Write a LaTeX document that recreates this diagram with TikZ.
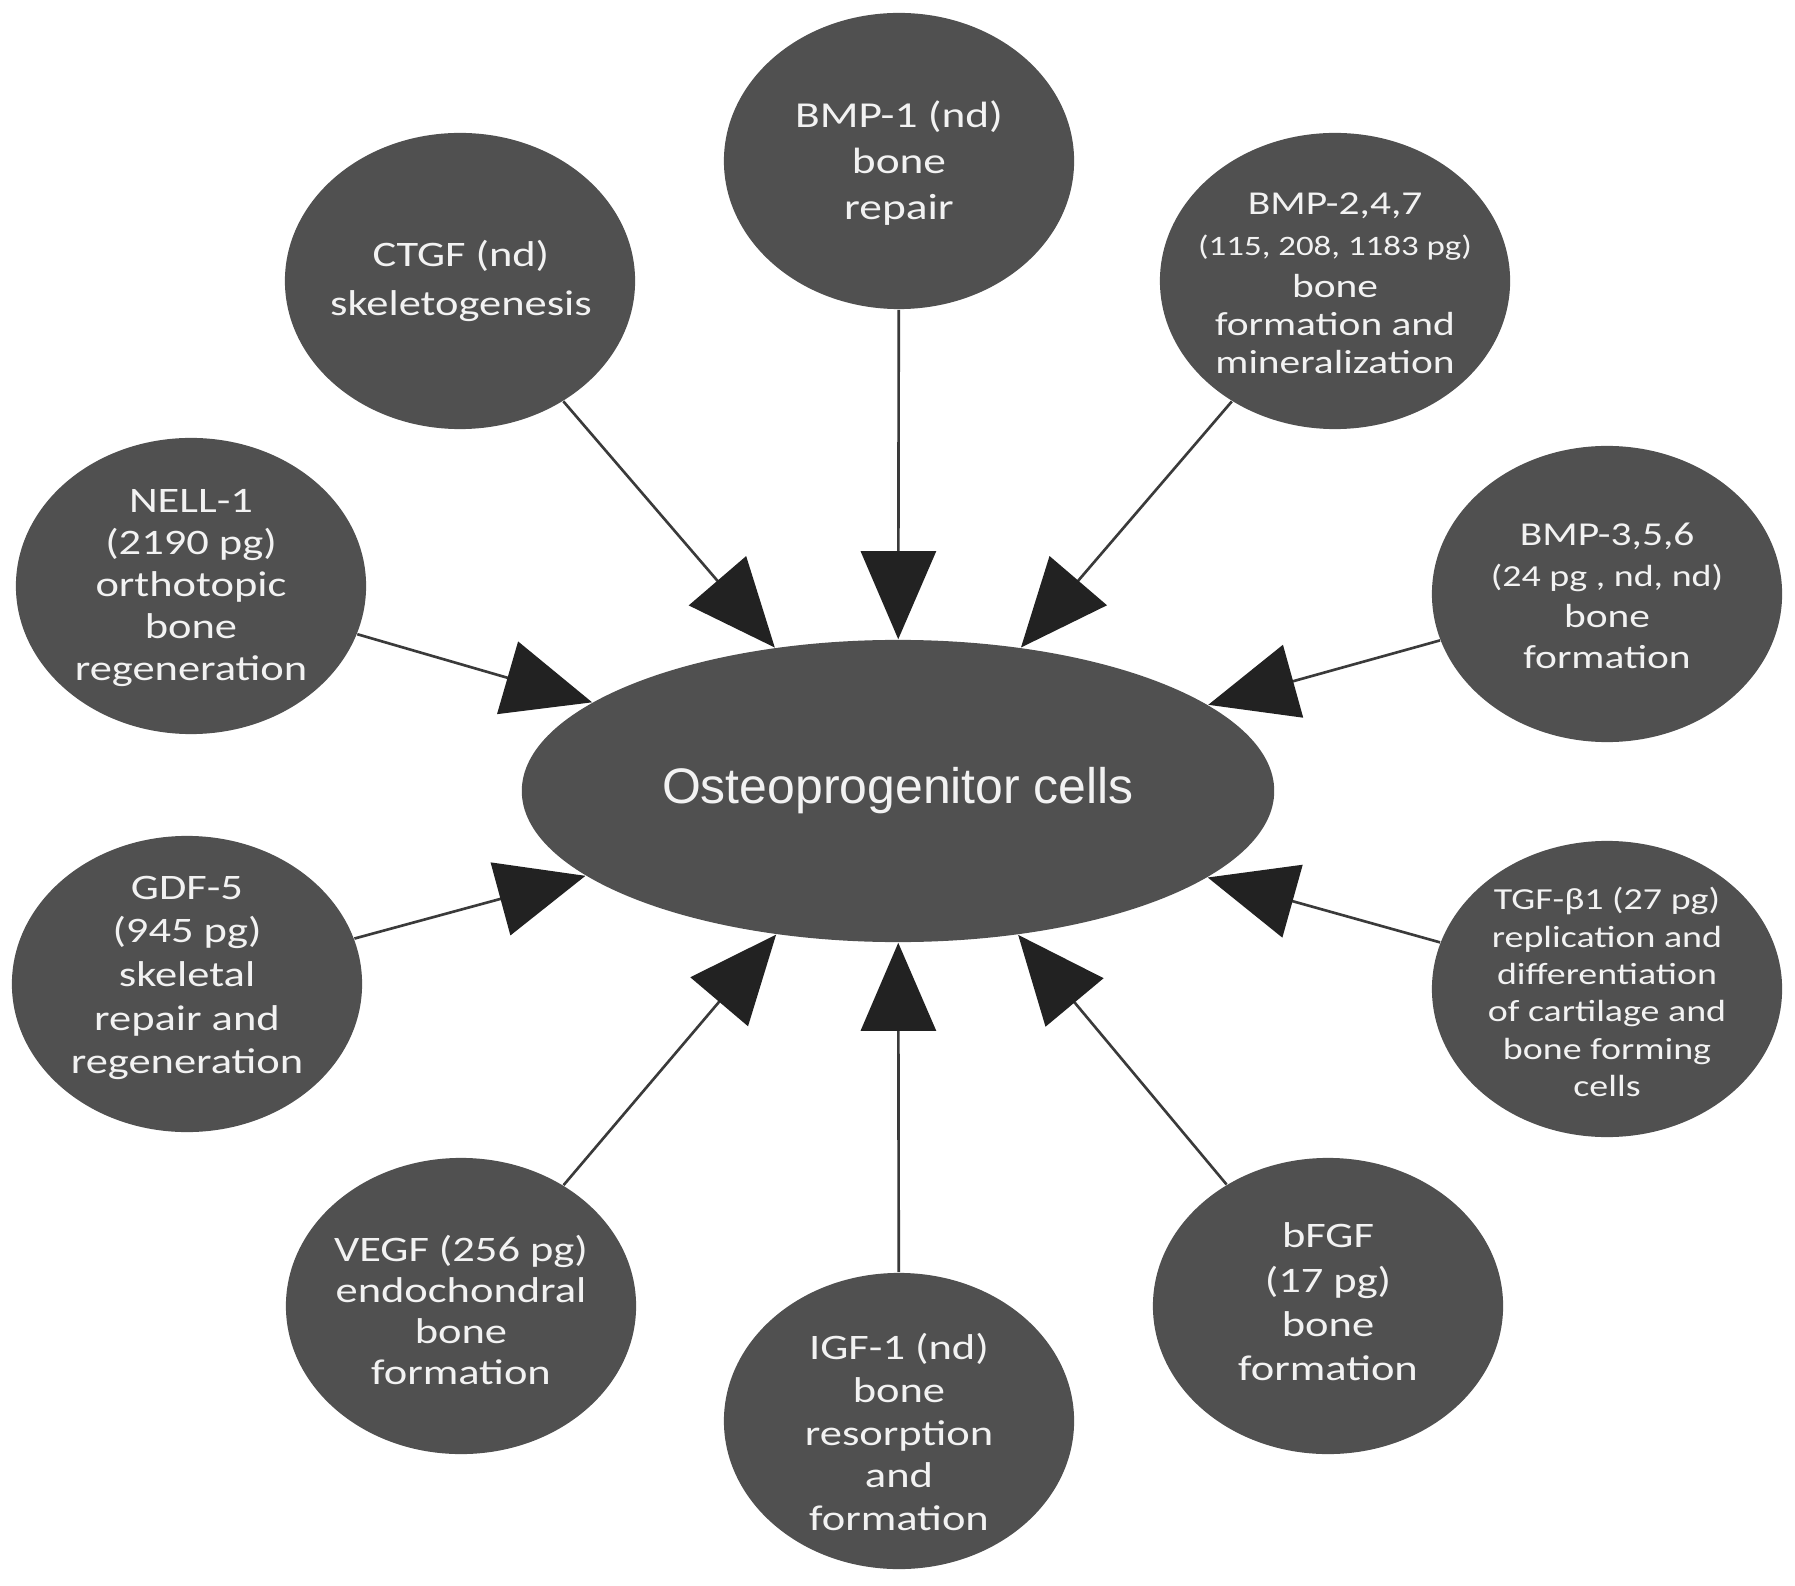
\documentclass[tikz,border=0pt]{standalone}
\usepackage{fontspec}
\setmainfont{Carlito}[FakeStretch=1.24]
\newfontfamily\arialf{Liberation Sans}
\usetikzlibrary{shapes.geometric,arrows.meta}
\definecolor{bubble}{HTML}{505050}
\definecolor{textc}{HTML}{F2F2F2}
\definecolor{linec}{HTML}{3A3A3A}
\definecolor{tipc}{HTML}{222222}
\begin{document}
\begin{tikzpicture}[x=0.01cm,y=-0.01cm,
  bub/.style={ellipse, fill=bubble, draw=none, minimum width=3.5cm, minimum height=2.96cm, inner sep=0pt},
  hub/.style={ellipse, fill=bubble, draw=none, minimum width=7.52cm, minimum height=3.02cm, inner sep=0pt},
  txt/.style={text=textc, align=center, inner sep=0pt, font=\fontsize{10.2}{12.5}\selectfont},
  link/.style={draw=linec, line width=0.75pt, -{Triangle[length=0.88cm,width=0.75cm,fill=tipc,color=tipc]}}]
\fill[white] (0,0) rectangle (1795,1586);
\useasboundingbox (0,0) rectangle (1795,1586);

% hub
\node[hub] (osteo) at (898,791) {};
\node[text=textc, inner sep=0pt, font=\arialf\fontsize{14.2}{17}\selectfont] (osteot) at (898,791) {Osteoprogenitor cells};

% satellites
\node[bub] (ctgf) at (460,281) {};
\node[bub] (bmp1) at (899,161) {};
\node[bub] (bmp247) at (1335,281) {};
\node[bub] (nell) at (191,586) {};
\node[bub] (bmp356) at (1607,594) {};
\node[bub] (gdf) at (187,984) {};
\node[bub] (tgf) at (1607,989) {};
\node[bub] (vegf) at (461,1306) {};
\node[bub] (igf) at (899,1421) {};
\node[bub] (bfgf) at (1328,1306) {};

% texts
\node[txt, font=\fontsize{10.2}{13.8}\selectfont] (ctgft) at (461,281) {CTGF (nd)\\skeletogenesis};
\node[txt, font=\fontsize{10.4}{13}\selectfont] (bmp1t) at (899,163) {BMP-1 (nd)\\bone\\repair};
\node[txt, font=\fontsize{9.5}{10.8}\selectfont] (bmp247t) at (1335,283) {BMP-2,4,7\\[1pt]{\fontsize{8}{10}\selectfont (115, 208, 1183 pg)}\\[1pt]bone\\formation and\\mineralization};
\node[txt, font=\fontsize{10.2}{12}\selectfont] (nellt) at (191,588) {NELL-1\\(2190 pg)\\orthotopic\\bone\\regeneration};
\node[txt, font=\fontsize{9.5}{11.7}\selectfont] (bmp356t) at (1607,596) {BMP-3,5,6\\{\fontsize{8.7}{11}\selectfont (24 pg , nd, nd)}\\bone\\formation};
\node[txt, font=\fontsize{10.2}{12.4}\selectfont] (gdft) at (187,978) {GDF-5\\(945 pg)\\skeletal\\repair and\\regeneration};
\node[txt, font=\fontsize{8.7}{10.6}\selectfont] (tgft) at (1607,992) {TGF-β1 (27 pg)\\replication and\\differentiation\\of cartilage and\\bone forming\\cells};
\node[txt, font=\fontsize{10.2}{11.6}\selectfont] (vegft) at (461,1310) {VEGF (256 pg)\\endochondral\\bone\\formation};
\node[txt, font=\fontsize{10.2}{12.1}\selectfont] (igft) at (899,1432) {IGF-1 (nd)\\bone\\resorption\\and\\formation};
\node[txt, font=\fontsize{10.2}{12.6}\selectfont] (bfgft) at (1328,1302) {bFGF\\(17 pg)\\bone\\formation};

% connectors
\foreach \n in {ctgf,bmp1,bmp247,nell,bmp356,gdf,tgf,vegf,igf,bfgf}
  \draw[link] (\n) -- (osteo);
\end{tikzpicture}
\end{document}
